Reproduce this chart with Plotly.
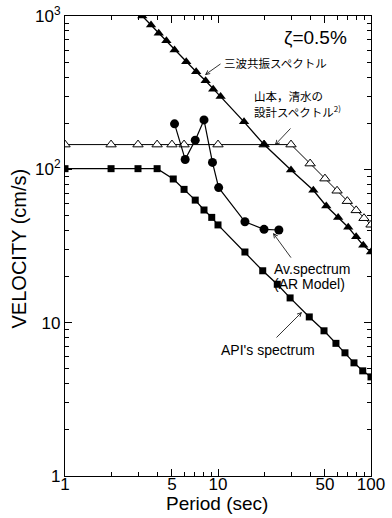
import plotly.graph_objects as go

# ---- data ----
mitsunami_T = [3.2, 3.65, 4.1, 4.6, 5.2, 6.2, 7.2, 8.3, 9.3, 10.4, 14.8, 20, 30, 42, 51, 61, 71, 80, 89, 100]
mitsunami_V = [1000, 873, 771, 690, 600, 503, 433, 378, 333, 298, 204, 145, 99, 73, 57.7, 48.6, 41.9, 36.3, 32, 28.9]

design_T = [1, 2, 3, 4, 5, 6, 10, 20, 30, 40, 50, 60, 70, 80, 90, 100]
design_V = [145, 145, 145, 145, 145, 145, 145, 145, 145, 109, 87, 72.5, 62, 54, 48, 43.5]

av_T = [5.2, 6.1, 7.1, 8.1, 9.2, 10.1, 15, 20, 25]
av_V = [198, 116, 155, 210, 111, 76, 45.5, 40.6, 40.2]

api_T = [1, 2, 3, 4, 5.1, 6, 7.1, 8.1, 9.1, 10, 15, 19.6, 24.4, 29.6, 39.5, 49.3, 59, 67.6, 77.4, 88.3, 100]
api_V = [101, 101, 101, 101, 86.5, 74, 63, 54.3, 48.6, 43.4, 28.9, 21.8, 17.8, 14.5, 10.9, 8.85, 7.33, 6.36, 5.47, 4.85, 4.43]

x_major = [1, 5, 10, 50, 100]
x_major_text = ["1", "5", "10", "50", "100"]
y_major = [1, 10, 100, 1000]
y_major_text = ["1", "10", "10<sup>2</sup>", "10<sup>3</sup>"]

x_minor = [2, 3, 4, 6, 7, 8, 9, 20, 30, 40, 60, 70, 80, 90]
y_minor = [2, 3, 4, 5, 6, 7, 8, 9, 20, 30, 40, 50, 60, 70, 80, 90, 200, 300, 400, 500, 600, 700, 800, 900]

FONT = "Liberation Sans, Arial, sans-serif"
CJK = "Noto Sans CJK JP, sans-serif"

fig = go.Figure()
fig.add_trace(go.Scatter(x=design_T, y=design_V, mode="lines+markers",
                         line=dict(color="black", width=1),
                         marker=dict(symbol="triangle-up", size=9, color="white",
                                     line=dict(color="black", width=1))))
fig.add_trace(go.Scatter(x=mitsunami_T, y=mitsunami_V, mode="lines+markers",
                         line=dict(color="black", width=1.3),
                         marker=dict(symbol="triangle-up", size=9, color="black")))
fig.add_trace(go.Scatter(x=api_T, y=api_V, mode="lines+markers",
                         line=dict(color="black", width=1.3),
                         marker=dict(symbol="square", size=7, color="black")))
fig.add_trace(go.Scatter(x=av_T, y=av_V, mode="lines+markers",
                         line=dict(color="black", width=1.2),
                         marker=dict(symbol="circle", size=9, color="black")))

axis_common = dict(
    type="log", showgrid=False, zeroline=False,
    showline=True, linecolor="black", linewidth=1.2, mirror="allticks",
    ticks="inside", ticklen=7, tickwidth=1, tickcolor="black",
    tickfont=dict(family=FONT, size=17, color="black"),
)

fig.update_xaxes(**axis_common, range=[0, 2], tickvals=x_major, ticktext=x_major_text,
                 ticklabelstandoff=-8,
                 minor=dict(tickvals=x_minor, ticks="inside", ticklen=4, tickcolor="black", tickwidth=1))
fig.update_yaxes(**axis_common, range=[0, 3], tickvals=y_major, ticktext=y_major_text,
                 minor=dict(tickvals=y_minor, ticks="inside", ticklen=4, tickcolor="black", tickwidth=1))

anns = []
def txt(x, y, s, size, family, xanchor="left", angle=0):
    anns.append(dict(xref="paper", yref="paper", x=x, y=y, text=s, showarrow=False,
                     xanchor=xanchor, yanchor="middle", textangle=angle,
                     font=dict(family=family, size=size, color="black")))

def arrow(x, y, ax, ay):
    anns.append(dict(xref="paper", yref="paper", x=x, y=y, ax=ax, ay=ay, text="",
                     showarrow=True, arrowhead=5, arrowsize=1, arrowwidth=0.8,
                     arrowcolor="black", standoff=0, startstandoff=0))

# axis titles
txt(0.497, -0.0600, "Period (sec)", 19, FONT, "center")
txt(-0.152, 0.4957, "VELOCITY (cm/s)", 20, FONT, "center", -90)

txt(0.817, 0.954, "ζ=0.5%", 19, FONT, "center")
txt(0.512, 0.898, "三波共振スペクトル", 11.5, CJK)
txt(0.610, 0.826, "山本，清水の", 11.5, CJK)
txt(0.610, 0.792, "設計スペクトル<sup>2)</sup>", 11.5, CJK)
txt(0.676, 0.450, "Av.spectrum", 14, FONT)
txt(0.676, 0.418, "(AR Model)", 14, FONT)
txt(0.503, 0.274, "API's spectrum", 14, FONT)

arrow(0.4575, 0.872, 17, -12)
arrow(0.686, 0.7196, 17, -18)
arrow(0.680, 0.528, 19, 26)
arrow(0.7745, 0.3565, -27, 27)

fig.update_layout(
    width=392, height=518,
    margin=dict(l=65, r=21, t=16, b=42, autoexpand=False),
    paper_bgcolor="white", plot_bgcolor="white",
    showlegend=False,
    annotations=anns,
    font=dict(family=FONT, color="black"),
)

fig.write_html("out.html", config={"displayModeBar": False},
               post_script="document.body.style.margin='0';document.body.style.overflow='hidden';")
